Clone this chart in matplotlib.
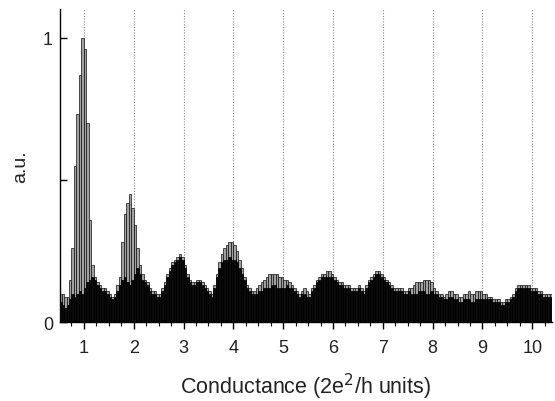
import numpy as np
import matplotlib
matplotlib.use("Agg")
import matplotlib.pyplot as plt
from matplotlib.ticker import MultipleLocator, FixedLocator

plt.rcParams['font.family'] = ['Liberation Sans', 'DejaVu Sans']

# histogram bins: width 0.05 from 0.50 to 10.45
bin_width = 0.05
bin_start = 0.50

# upper envelope of the overlapping histograms (gray)
envelope = [
  # 0.5 - 1.0
  0.10, 0.10, 0.09, 0.09, 0.15, 0.26, 0.55, 0.73, 0.87, 1.00,
  # 1.0 - 2.0
  0.96, 0.70, 0.36, 0.20, 0.16, 0.14, 0.13, 0.12, 0.12, 0.11,
  0.10, 0.09, 0.10, 0.13, 0.16, 0.28, 0.38, 0.42, 0.45, 0.40,
  # 2.0 - 3.0
  0.34, 0.26, 0.20, 0.17, 0.15, 0.14, 0.12, 0.11, 0.11, 0.10,
  0.10, 0.12, 0.14, 0.17, 0.19, 0.21, 0.22, 0.23, 0.24, 0.23,
  # 3.0 - 4.0
  0.20, 0.17, 0.15, 0.14, 0.14, 0.15, 0.15, 0.14, 0.13, 0.12,
  0.11, 0.10, 0.13, 0.17, 0.21, 0.24, 0.26, 0.27, 0.28, 0.28,
  # 4.0 - 5.0
  0.27, 0.25, 0.22, 0.19, 0.16, 0.13, 0.12, 0.11, 0.11, 0.12,
  0.13, 0.14, 0.15, 0.16, 0.17, 0.17, 0.17, 0.17, 0.16, 0.16,
  # 5.0 - 6.0
  0.15, 0.15, 0.14, 0.13, 0.12, 0.11, 0.10, 0.11, 0.12, 0.11,
  0.10, 0.12, 0.13, 0.15, 0.16, 0.17, 0.17, 0.18, 0.18, 0.17,
  # 6.0 - 7.0
  0.16, 0.15, 0.14, 0.14, 0.13, 0.13, 0.13, 0.12, 0.12, 0.12,
  0.13, 0.12, 0.11, 0.13, 0.15, 0.16, 0.17, 0.18, 0.18, 0.17,
  # 7.0 - 8.0
  0.16, 0.15, 0.14, 0.13, 0.12, 0.12, 0.12, 0.12, 0.11, 0.11,
  0.12, 0.12, 0.13, 0.14, 0.14, 0.14, 0.15, 0.15, 0.15, 0.14,
  # 8.0 - 9.0
  0.12, 0.11, 0.10, 0.10, 0.09, 0.10, 0.11, 0.11, 0.10, 0.10,
  0.09, 0.09, 0.10, 0.10, 0.11, 0.10, 0.10, 0.11, 0.11, 0.11,
  # 9.0 - 10.0
  0.10, 0.10, 0.09, 0.09, 0.08, 0.08, 0.08, 0.07, 0.07, 0.08,
  0.08, 0.09, 0.10, 0.12, 0.13, 0.13, 0.13, 0.13, 0.13, 0.12,
  # 10.0 - 10.45
  0.12, 0.12, 0.11, 0.11, 0.10, 0.10, 0.10, 0.10, 0.10,
]

# dense black overlap region
dark = [
  0.07, 0.06, 0.05, 0.06, 0.08, 0.10, 0.09, 0.10, 0.11, 0.10,
  0.12, 0.14, 0.15, 0.16, 0.15, 0.13, 0.12, 0.11, 0.11, 0.10,
  0.09, 0.08, 0.09, 0.11, 0.13, 0.15, 0.16, 0.14, 0.13, 0.15,
  0.17, 0.19, 0.17, 0.15, 0.14, 0.13, 0.11, 0.10, 0.10, 0.09,
  0.09, 0.11, 0.13, 0.16, 0.18, 0.20, 0.21, 0.22, 0.23, 0.22,
  0.19, 0.16, 0.14, 0.13, 0.13, 0.14, 0.14, 0.13, 0.12, 0.11,
  0.10, 0.09, 0.12, 0.16, 0.19, 0.21, 0.22, 0.22, 0.23, 0.22,
  0.22, 0.21, 0.19, 0.17, 0.15, 0.12, 0.11, 0.10, 0.10, 0.10,
  0.11, 0.11, 0.12, 0.12, 0.12, 0.13, 0.13, 0.12, 0.12, 0.12,
  0.12, 0.13, 0.12, 0.12, 0.11, 0.10, 0.09, 0.10, 0.10, 0.09,
  0.09, 0.11, 0.12, 0.14, 0.15, 0.16, 0.16, 0.16, 0.16, 0.16,
  0.15, 0.14, 0.13, 0.13, 0.12, 0.12, 0.12, 0.11, 0.11, 0.11,
  0.12, 0.11, 0.10, 0.12, 0.14, 0.15, 0.16, 0.17, 0.17, 0.16,
  0.15, 0.14, 0.13, 0.12, 0.11, 0.11, 0.11, 0.11, 0.10, 0.10,
  0.11, 0.10, 0.10, 0.10, 0.11, 0.11, 0.11, 0.10, 0.10, 0.11,
  0.10, 0.10, 0.09, 0.09, 0.08, 0.08, 0.09, 0.09, 0.08, 0.08,
  0.07, 0.07, 0.08, 0.08, 0.08, 0.07, 0.07, 0.08, 0.08, 0.08,
  0.08, 0.08, 0.08, 0.08, 0.07, 0.07, 0.07, 0.06, 0.06, 0.07,
  0.07, 0.08, 0.09, 0.11, 0.12, 0.12, 0.12, 0.12, 0.12, 0.11,
  0.11, 0.11, 0.10, 0.10, 0.09, 0.09, 0.09, 0.09, 0.09,
]

plateaus = [1, 2, 3, 4, 5, 6, 7, 8, 9, 10]

lefts = bin_start + bin_width * np.arange(len(envelope))

fig = plt.figure(figsize=(5.55, 4.02), dpi=100)
ax = fig.add_axes([0.108, 0.196, 0.887, 0.779])

for p in plateaus:
  ax.axvline(p, color='#888888', lw=0.8, ls=(0, (1, 1.5)), zorder=0)

ax.bar(lefts, envelope, width=bin_width, align='edge',
       facecolor='#a0a0a0', edgecolor='#111111', linewidth=0.5, zorder=2)
ax.bar(lefts, dark, width=bin_width, align='edge',
       facecolor='#0a0a0a', edgecolor='#000000', linewidth=0.5, zorder=3)

ax.set_xlim(0.518, 10.40)
ax.set_ylim(0, 1.1)

ax.spines['top'].set_visible(False)
ax.spines['right'].set_visible(False)
ax.spines['left'].set_linewidth(1.0)
ax.spines['bottom'].set_linewidth(1.0)

ax.xaxis.set_major_locator(FixedLocator(plateaus))
ax.xaxis.set_minor_locator(MultipleLocator(0.25))
ax.tick_params(axis='x', which='major', direction='out', length=5, width=1,
               labelsize=13, pad=7, labelcolor='#222222')
ax.tick_params(axis='x', which='minor', direction='out', length=3, width=0.8)

ax.yaxis.set_major_locator(FixedLocator([0, 0.5, 1]))
ax.set_yticklabels(['0', '', '1'])
ax.tick_params(axis='y', direction='in', length=5, width=1, labelsize=13,
               pad=5, labelcolor='#222222')

ax.set_xlabel('Conductance (2e$^2$/h units)', fontsize=15.5, labelpad=11,
              color='#222222')
ax.set_ylabel('a.u.', fontsize=14, labelpad=10, color='#222222')

fig.savefig('out.png', dpi=100)
